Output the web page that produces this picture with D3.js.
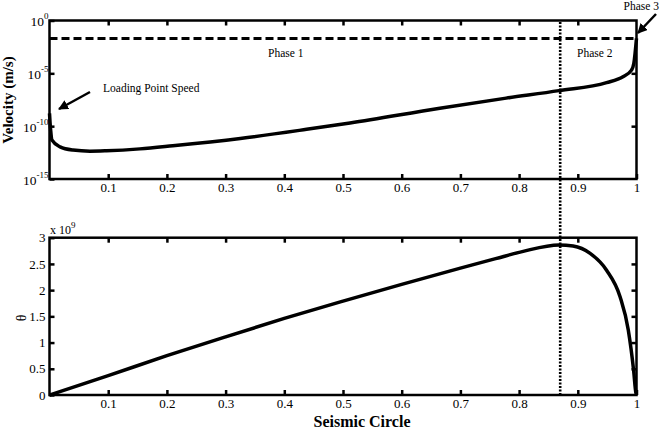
<!DOCTYPE html>
<html>
<head>
<meta charset="utf-8">
<script src="https://cdn.jsdelivr.net/npm/d3@7"></script>
<style>
  body { margin: 0; background: #fff; }
  svg text { font-family: "Liberation Serif", "Times New Roman", Times, "DejaVu Serif", serif; }
</style>
</head>
<body>
<script>
// ---- data ----
// upper panel: slip velocity (m/s) along the seismic cycle
const cycleV = [0, 0.001, 0.002, 0.004, 0.018, 0.04, 0.069, 0.097, 0.154, 0.21, 0.325, 0.438, 0.512, 0.665, 0.778, 0.868, 0.949, 0.977, 0.9915, 0.9955, 1.0];
const velocity = [1.6e-9, 2.0e-10, 4.0e-11, 5.0e-12, 1.1e-12, 5.5e-13, 4.3e-13, 4.7e-13, 7.1e-13, 1.4e-12, 6.9e-12, 5.0e-11, 2.0e-10, 5.0e-9, 4.5e-8, 2.3e-7, 1.3e-6, 4.8e-6, 2.0e-5, 8.9e-5, 2.0e-2];
const dashedLevel = 2.0e-2;
// lower panel: state variable theta (x 10^9)
const cycleT = [0, 0.1, 0.2, 0.3, 0.4, 0.5, 0.6, 0.7, 0.76, 0.807, 0.868, 0.892, 0.921, 0.949, 0.972, 0.986, 0.995, 0.999, 1.0];
const thetaE9 = [0, 0.37, 0.75, 1.11, 1.46, 1.79, 2.11, 2.42, 2.6, 2.74, 2.86, 2.84, 2.70, 2.38, 1.875, 1.24, 0.48, 0.04, 0];
const phaseBoundary = 0.87;

const xTicks = [0.1, 0.2, 0.3, 0.4, 0.5, 0.6, 0.7, 0.8, 0.9, 1];
const vTicks = [1e-15, 1e-10, 1e-5, 1];
const vExps = ['-15', '-10', '-5', '0'];
const tTicks = [0, 0.5, 1, 1.5, 2, 2.5, 3];

const width = 661, height = 431;
const left = 49.5, right = 636.5;
const serif = '"Liberation Serif", "Times New Roman", Times, serif';

const svg = d3.select('body').append('svg')
  .attr('width', width)
  .attr('height', height)
  .attr('font-family', serif);

const x = d3.scaleLinear().domain([0, 1]).range([left, right]);
const yV = d3.scaleLog().domain([1e-15, 1]).range([179, 20.5]);
const yT = d3.scaleLinear().domain([0, 3]).range([395, 237.7]);

function frame(y0, y1) {
  svg.append('rect')
    .attr('x', left).attr('y', y0)
    .attr('width', right - left).attr('height', y1 - y0)
    .attr('fill', 'none').attr('stroke', '#000').attr('stroke-width', 2.5);
}

function xAxes(y0, y1) {
  // bottom with labels
  const gb = svg.append('g')
    .attr('transform', `translate(0,${y1})`)
    .call(d3.axisBottom(x).tickValues(xTicks).tickSize(-5).tickPadding(4)
      .tickFormat(d => d === 1 ? '1' : d3.format('.1f')(d)));
  // top, ticks only
  const gt = svg.append('g')
    .attr('transform', `translate(0,${y0})`)
    .call(d3.axisTop(x).tickValues(xTicks.filter(d => d < 1)).tickSize(-5).tickFormat(''));
  [gb, gt].forEach(g => {
    g.attr('font-family', serif).attr('font-size', 13);
    g.select('.domain').remove();
    g.selectAll('line').attr('stroke-width', 2.5);
    g.selectAll('text').attr('fill', '#000');
  });
}

// ---- upper panel ----
frame(20.5, 179);
xAxes(20.5, 179);

const gvl = svg.append('g')
  .attr('transform', `translate(${left},0)`)
  .call(d3.axisLeft(yV).tickValues(vTicks).tickSize(-5).tickPadding(3).tickFormat(''));
const gvr = svg.append('g')
  .attr('transform', `translate(${right},0)`)
  .call(d3.axisRight(yV).tickValues(vTicks.slice(1, 3)).tickSize(-5).tickFormat(''));
[gvl, gvr].forEach(g => {
  g.attr('font-family', serif).attr('font-size', 13);
  g.select('.domain').remove();
  g.selectAll('line').attr('stroke-width', 2.5);
});
gvl.selectAll('.tick text').remove();
gvl.selectAll('.tick').each(function (d, i) {
  const t = d3.select(this).append('text')
    .attr('x', -1).attr('y', 5)
    .attr('text-anchor', 'end')
    .attr('fill', '#000')
    .attr('font-size', 13.5);
  t.append('tspan').text('10');
  t.append('tspan').attr('font-size', 9).attr('dy', -7).text(vExps[i]);
});

// dashed level
svg.append('line')
  .attr('x1', x(0)).attr('x2', x(1))
  .attr('y1', yV(dashedLevel)).attr('y2', yV(dashedLevel))
  .attr('stroke', '#000').attr('stroke-width', 3)
  .attr('stroke-dasharray', '8,4');

const lineV = d3.line()
  .x((d, i) => x(cycleV[i]))
  .y(d => yV(d))
  .curve(d3.curveMonotoneX);
svg.append('path')
  .datum(velocity)
  .attr('d', lineV)
  .attr('fill', 'none')
  .attr('stroke', '#000')
  .attr('stroke-width', 3.5);

// ---- lower panel ----
frame(237.7, 395);
xAxes(237.7, 395);

const gtl = svg.append('g')
  .attr('transform', `translate(${left},0)`)
  .call(d3.axisLeft(yT).tickValues(tTicks).tickSize(-5).tickPadding(4)
    .tickFormat(d => d3.format('~g')(d)));
const gtr = svg.append('g')
  .attr('transform', `translate(${right},0)`)
  .call(d3.axisRight(yT).tickValues(tTicks.slice(1, -1)).tickSize(-5).tickFormat(''));
[gtl, gtr].forEach(g => {
  g.attr('font-family', serif).attr('font-size', 13);
  g.select('.domain').remove();
  g.selectAll('line').attr('stroke-width', 2.5);
  g.selectAll('text').attr('fill', '#000');
});

// multiplier
const mult = svg.append('text')
  .attr('x', 50).attr('y', 234)
  .attr('font-size', 12);
mult.append('tspan').text('x 10');
mult.append('tspan').attr('font-size', 9).attr('dy', -6).text('9');

const lineT = d3.line()
  .x((d, i) => x(cycleT[i]))
  .y(d => yT(d))
  .curve(d3.curveMonotoneX);
svg.append('path')
  .datum(thetaE9)
  .attr('d', lineT)
  .attr('fill', 'none')
  .attr('stroke', '#000')
  .attr('stroke-width', 3.5);

// phase boundary, runs through both panels
svg.append('line')
  .attr('x1', x(phaseBoundary)).attr('x2', x(phaseBoundary))
  .attr('y1', 22).attr('y2', 395)
  .attr('stroke', '#000').attr('stroke-width', 2.6)
  .attr('stroke-dasharray', '2,1.5');

// ---- axis titles ----
svg.append('text')
  .attr('transform', 'translate(13,100) rotate(-90)')
  .attr('text-anchor', 'middle')
  .attr('font-size', 15).attr('font-weight', 'bold')
  .text('Velocity (m/s)');

svg.append('text')
  .attr('transform', 'translate(26,318) rotate(-90)')
  .attr('text-anchor', 'middle')
  .attr('font-size', 14)
  .text('θ');

svg.append('text')
  .attr('x', 362).attr('y', 427)
  .attr('text-anchor', 'middle')
  .attr('font-size', 16).attr('font-weight', 'bold')
  .text('Seismic Circle');

// ---- annotations ----
const notes = [
  { t: 'Phase 1', x: 268, y: 57, a: 'start' },
  { t: 'Phase 2', x: 577, y: 57, a: 'start' },
  { t: 'Phase 3', x: 659, y: 10, a: 'end' },
  { t: 'Loading Point Speed', x: 103, y: 92, a: 'start' },
];
svg.selectAll('.note').data(notes).enter().append('text')
  .attr('class', 'note')
  .attr('x', d => d.x).attr('y', d => d.y)
  .attr('text-anchor', d => d.a)
  .attr('font-size', 11.5)
  .text(d => d.t);

svg.append('defs').append('marker')
  .attr('id', 'ah')
  .attr('viewBox', '0 0 10 10')
  .attr('refX', 9).attr('refY', 5)
  .attr('markerWidth', 4).attr('markerHeight', 4)
  .attr('orient', 'auto')
  .append('path').attr('d', 'M0,0L10,5L0,10z').attr('fill', '#000');

const arrows = [
  [90, 92, 59, 109],
  [656, 14, 638, 33],
];
svg.selectAll('.arrow').data(arrows).enter().append('line')
  .attr('class', 'arrow')
  .attr('x1', d => d[0]).attr('y1', d => d[1])
  .attr('x2', d => d[2]).attr('y2', d => d[3])
  .attr('stroke', '#000').attr('stroke-width', 2.5)
  .attr('marker-end', 'url(#ah)');
</script>
</body>
</html>
